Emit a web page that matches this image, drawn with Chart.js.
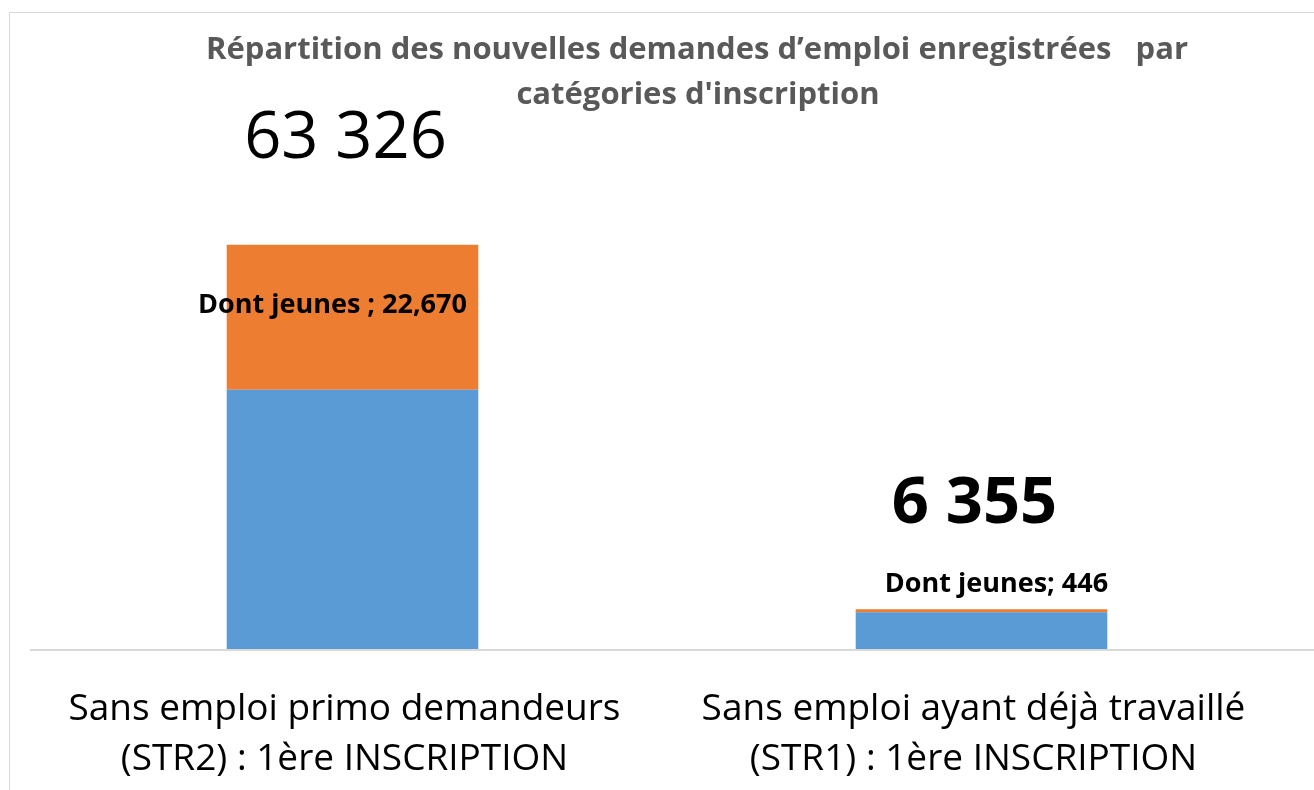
<!DOCTYPE html>
<html lang="fr">
<head>
<meta charset="utf-8">
<title>Répartition des nouvelles demandes d'emploi</title>
<script src="https://cdn.jsdelivr.net/npm/chart.js@4/dist/chart.umd.min.js"></script>
<style>
    html, body { margin: 0; padding: 0; background: #fff; overflow: hidden; }
    #wrap { position: relative; width: 1314px; height: 790px; }
    #frame {
        position: absolute; left: 9px; top: 12px; right: -10px; bottom: -10px;
        border-top: 1px solid #d9d9d9; border-left: 1px solid #d9d9d9;
    }
    #chart { position: absolute; left: 0; top: 0; }
</style>
</head>
<body>
<div id="wrap">
    <div id="frame"></div>
    <canvas id="chart" width="1314" height="790"></canvas>
</div>
<script>
// Categories and values
const categories = [
    ['Sans emploi primo demandeurs', '(STR2) : 1ère INSCRIPTION'],
    ['Sans emploi ayant déjà travaillé', '(STR1) : 1ère INSCRIPTION']
];
const autresValues = [40656, 5909];   // blue part
const jeunesValues = [22670, 446];    // orange part ("Dont jeunes")
const jeunesPrefixes = ['Dont jeunes ; ', 'Dont jeunes; '];
const titleLines = [
    'Répartition des nouvelles demandes d’emploi enregistrées   par',
    'catégories d\'inscription'
];

// label styling (not data)
const totalWeights = ['normal', 'bold'];
const totalDx = [-7, -7];
const jeunesDx = [-20, 15];
const jeunesDy = [-12, -25];   // relative to the segment centre / top

const FONT = "'Open Sans', 'Noto Sans', sans-serif";

function fmtTotal(v) {
    return String(v).replace(/\B(?=(\d{3})+(?!\d))/g, ' ');
}
function fmtJeunes(v) {
    return String(v).replace(/\B(?=(\d{3})+(?!\d))/g, ',');
}

// Draws the title, the extended baseline and the bar labels
const labelsPlugin = {
    id: 'labels',
    afterDraw(chart) {
        const ctx = chart.ctx;
        const yScale = chart.scales.y;
        const zeroY = yScale.getPixelForValue(0);

        ctx.save();
        // baseline across the frame
        ctx.strokeStyle = '#d9d9d9';
        ctx.lineWidth = 2;
        ctx.beginPath();
        ctx.moveTo(30, zeroY);
        ctx.lineTo(chart.width, zeroY);
        ctx.stroke();

        // title
        ctx.fillStyle = '#595959';
        ctx.font = 'bold 31px ' + FONT;
        ctx.textAlign = 'center';
        ctx.textBaseline = 'middle';
        ctx.fillText(titleLines[0], 697, 50);
        ctx.fillText(titleLines[1], 698, 95);

        const topMeta = chart.getDatasetMeta(1);
        topMeta.data.forEach((bar, i) => {
            const total = autresValues[i] + jeunesValues[i];
            const topY = yScale.getPixelForValue(total);

            // total above the stack
            ctx.fillStyle = '#000';
            ctx.font = totalWeights[i] + ' 65px ' + FONT;
            ctx.fillText(fmtTotal(total), bar.x + totalDx[i], topY - 105);

            // "Dont jeunes" label
            ctx.font = 'bold 27px ' + FONT;
            const segTop = bar.y;
            const segBottom = bar.base;
            const segH = segBottom - segTop;
            const y = segH > 60 ? (segTop + segBottom) / 2 + jeunesDy[i] : segTop + jeunesDy[i];
            ctx.fillText(jeunesPrefixes[i] + fmtJeunes(jeunesValues[i]), bar.x + jeunesDx[i], y);
        });
        ctx.restore();
    }
};

const ctx = document.getElementById('chart').getContext('2d');
const chart = new Chart(ctx, {
    type: 'bar',
    data: {
        labels: categories,
        datasets: [
            {
                label: 'Autres',
                data: autresValues,
                backgroundColor: '#5B9BD5',
                borderWidth: 0
            },
            {
                label: 'Dont jeunes',
                data: jeunesValues,
                backgroundColor: '#ED7D31',
                borderWidth: 0
            }
        ]
    },
    options: {
        responsive: false,
        animation: false,
        devicePixelRatio: 1,
        layout: {
            padding: { left: 38, right: 18, top: 202, bottom: 8 }
        },
        datasets: {
            bar: {
                barPercentage: 1,
                categoryPercentage: 0.4
            }
        },
        plugins: {
            legend: { display: false },
            tooltip: { enabled: false },
            title: { display: false }
        },
        scales: {
            x: {
                stacked: true,
                grid: { display: false, drawTicks: false },
                border: { display: true, color: '#d9d9d9', width: 2 },
                ticks: {
                    color: '#000',
                    padding: 34,
                    labelOffset: -8,
                    maxRotation: 0,
                    autoSkip: false,
                    font: { family: FONT, size: 37, lineHeight: 1.351 }
                },
                afterFit(scale) {
                    scale.height = 132;
                }
            },
            y: {
                stacked: true,
                display: false,
                min: 0,
                max: 70000
            }
        }
    },
    plugins: [labelsPlugin]
});
</script>
</body>
</html>
